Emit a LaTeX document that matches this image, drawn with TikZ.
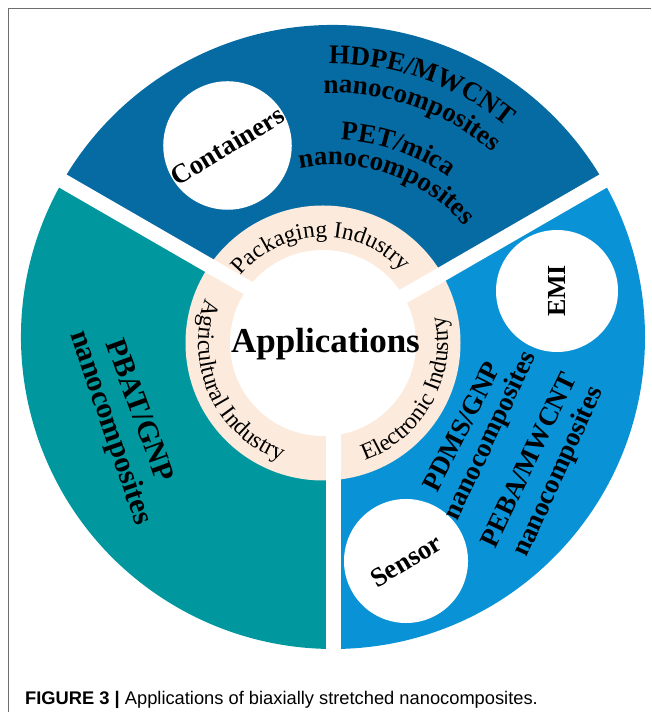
\documentclass[tikz,border=0pt]{standalone}
\usepackage{fontspec}
\setmainfont{Liberation Serif}
\newfontfamily\capfont{Liberation Sans}
\usepackage{tikz}
\usetikzlibrary{decorations.text,calc}

\definecolor{pkgblue}{RGB}{6,106,163}
\definecolor{agriteal}{RGB}{0,152,158}
\definecolor{elecblue}{RGB}{10,146,215}
\definecolor{ringbeige}{RGB}{252,235,220}
\definecolor{framegray}{RGB}{110,110,110}

\newcommand\ringtxt{\fontsize{23.5}{28}\selectfont}
\newcommand\boldtxt{\fontsize{27}{30}\selectfont\bfseries}

\begin{document}
\begin{tikzpicture}[x=1pt, y=1pt,
    bubble/.style={circle, fill=white, inner sep=0pt, font=\boldtxt},
    tag/.style={inner sep=0pt, font=\boldtxt},
    gap/.style={white, line width=15pt}]
  \useasboundingbox (0,0) rectangle (651,712);

  % frame
  \draw[framegray, line width=1.3pt] (651,703.7) -- (8.3,703.7) -- (8.3,0);

  \coordinate (o) at (333,375);
  \coordinate (r) at (323,369);

  % sectors
  \fill[pkgblue]  (o) -- ++(30:312)  arc[start angle=30,  end angle=150, radius=312] -- cycle;
  \fill[agriteal] (o) -- ++(150:312) arc[start angle=150, end angle=270, radius=312] -- cycle;
  \fill[elecblue] (o) -- ++(270:312) arc[start angle=270, end angle=390, radius=312] -- cycle;

  % ring and hub
  \fill[ringbeige] (r) circle[radius=137.5];
  \fill[white] (r) circle[radius=93];

  \foreach \a in {30,150,270}
    \draw[gap] (o) -- ++(\a:330);

  \node[anchor=base, inner sep=0pt, font=\fontsize{35}{40}\selectfont\bfseries] (apps) at (325.5,359.3) {Applications};

  % ring labels
  \path[decorate, decoration={text along path, text align=center,
      text={|\ringtxt|Packaging Industry}}]
    ($(r)+(151.4:106)$) arc[start angle=151.4, end angle=31.4, radius=106];
  \path[decorate, decoration={text along path, text align=center,
      text={|\ringtxt|Agricultural Industry}}]
    ($(r)+(149.7:125)$) arc[start angle=149.7, end angle=259.7, radius=125];
  \path[decorate, decoration={text along path, text align=center,
      text={|\ringtxt|Electronic Industry}}]
    ($(r)+(276:125)$) arc[start angle=276, end angle=386, radius=125];

  % packaging
  \node[bubble, minimum size=124pt, rotate=31] (containers) at (227.5,566.5) {Containers};
  \path[decorate, decoration={text along path, text align=center,
      text={|\boldtxt|HDPE/MWCNT}}]
    ($(o)+(110.7:273)$) arc[start angle=110.7, end angle=30.7, radius=273];
  \path[decorate, decoration={text along path, text align=center,
      text={|\boldtxt|nanocomposites}}]
    ($(o)+(110.7:244)$) arc[start angle=110.7, end angle=30.7, radius=244];
  \path[decorate, decoration={text along path, text align=center,
      text={|\boldtxt|PET/mica}}]
    ($(o)+(111:197)$) arc[start angle=111, end angle=31, radius=197];
  \path[decorate, decoration={text along path, text align=center,
      text={|\boldtxt|nanocomposites}}]
    ($(o)+(110.7:172)$) arc[start angle=110.7, end angle=30.7, radius=172];

  % electronics
  \node[bubble, minimum size=122pt, rotate=90, font=\fontsize{26}{30}\selectfont\bfseries] (emi) at (557,421) {EMI};
  \node[bubble, minimum size=124pt, rotate=31] (sensor) at (406,151) {Sensor};
  \node[tag, rotate=63]   (pdms)   at (461.5,285.5) {PDMS/GNP};
  \node[tag, rotate=64.5] (pdmsnc) at (491,276)     {nanocomposites};
  \node[tag, rotate=64.5] (peba)   at (528.5,252)   {PEBA/MWCNT};
  \node[tag, rotate=65.5] (pebanc) at (559,240)     {nanocomposites};

  % agriculture
  \node[tag, rotate=-70, font=\fontsize{30}{34}\selectfont\bfseries] (pbat)   at (140.5,302) {PBAT/GNP};
  \node[tag, rotate=-71, font=\fontsize{30}{34}\selectfont\bfseries] (pbatnc) at (110,284)   {nanocomposites};

  \node[anchor=base west, inner sep=0pt, font=\capfont\fontsize{18.3}{20}\selectfont] (caption) at (25,8)
    {\textbf{FIGURE 3 |} Applications of biaxially stretched nanocomposites.};
\end{tikzpicture}
\end{document}
